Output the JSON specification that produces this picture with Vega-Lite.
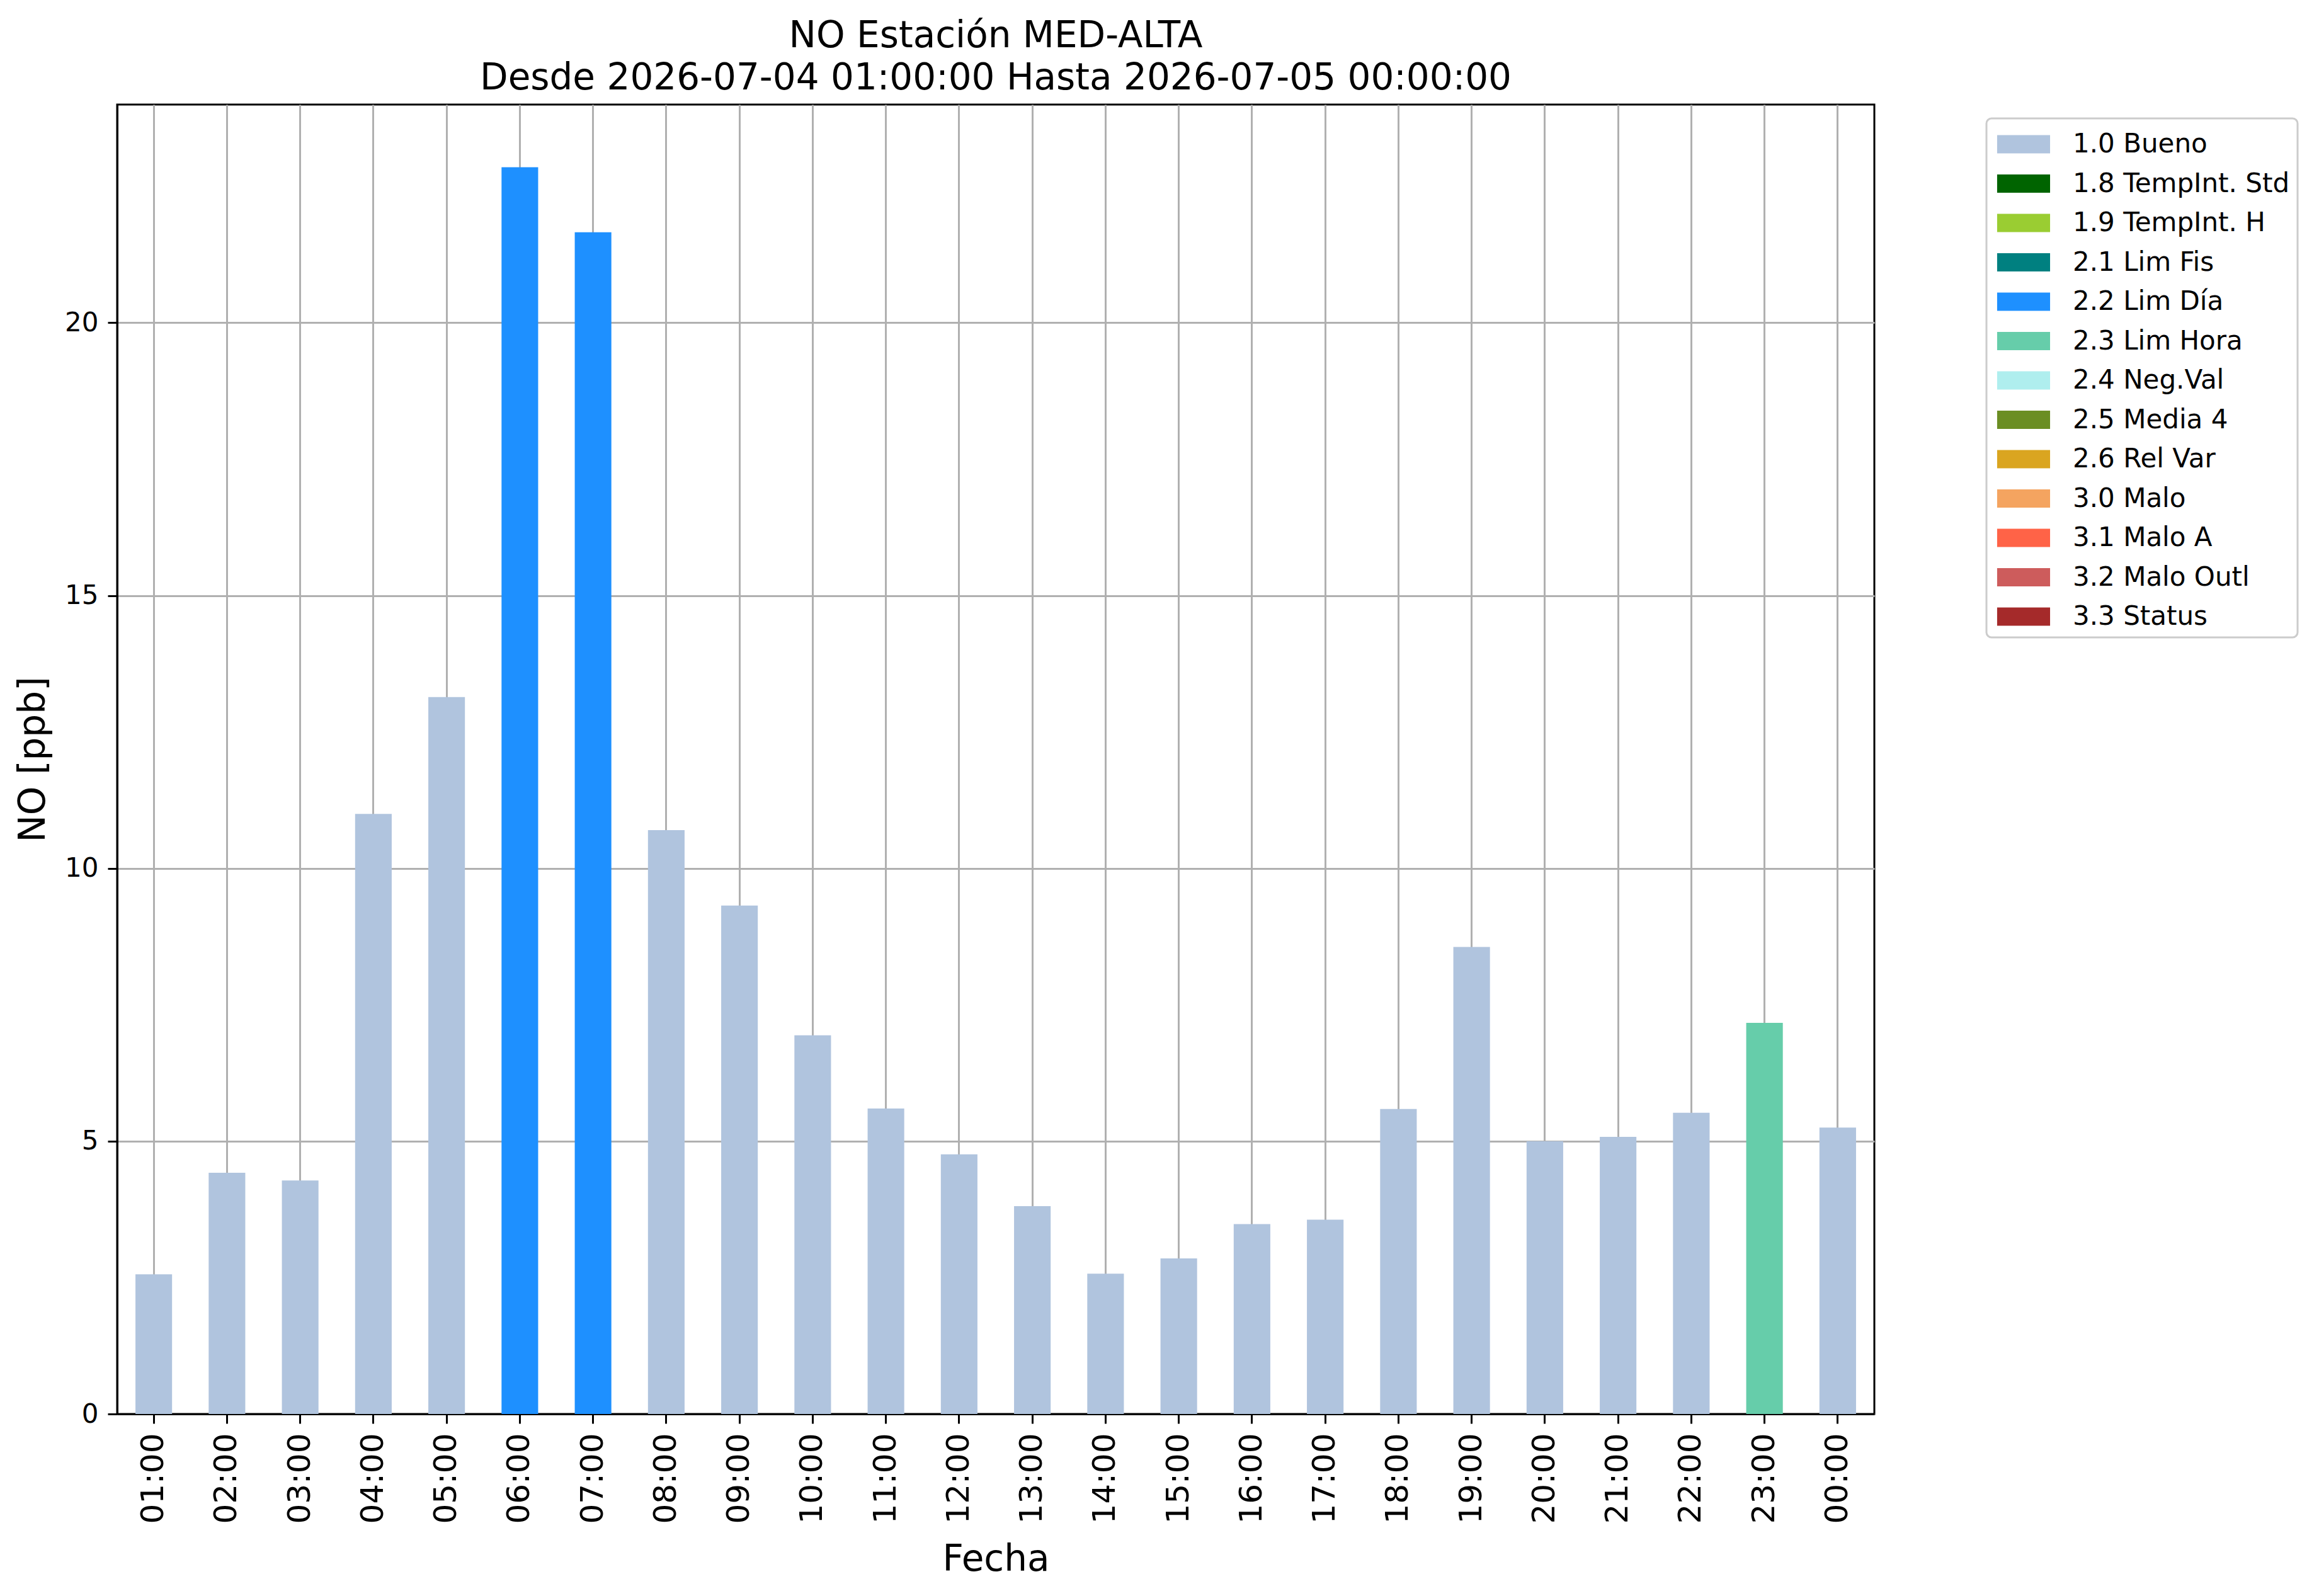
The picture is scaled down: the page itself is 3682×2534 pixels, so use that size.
{
  "$schema": "https://vega.github.io/schema/vega-lite/v6.json",
  "autosize": "none",
  "width": 2790,
  "height": 2079,
  "padding": {"left": 186, "top": 166, "right": 706, "bottom": 289},
  "background": "white",
  "title": {
    "text": ["NO Estación MED-ALTA", "Desde 2026-07-04 01:00:00 Hasta 2026-07-05 00:00:00"],
    "font": "DejaVu Sans",
    "fontSize": 58,
    "fontWeight": "normal",
    "lineHeight": 67,
    "anchor": "middle",
    "frame": "group",
    "offset": 12
  },
  "data": {
    "values": [
      {"hora": "01:00", "valor": 2.56, "flag": "1.0 Bueno"},
      {"hora": "02:00", "valor": 4.42, "flag": "1.0 Bueno"},
      {"hora": "03:00", "valor": 4.28, "flag": "1.0 Bueno"},
      {"hora": "04:00", "valor": 11.0, "flag": "1.0 Bueno"},
      {"hora": "05:00", "valor": 13.14, "flag": "1.0 Bueno"},
      {"hora": "06:00", "valor": 22.85, "flag": "2.2 Lim Día"},
      {"hora": "07:00", "valor": 21.66, "flag": "2.2 Lim Día"},
      {"hora": "08:00", "valor": 10.7, "flag": "1.0 Bueno"},
      {"hora": "09:00", "valor": 9.32, "flag": "1.0 Bueno"},
      {"hora": "10:00", "valor": 6.94, "flag": "1.0 Bueno"},
      {"hora": "11:00", "valor": 5.6, "flag": "1.0 Bueno"},
      {"hora": "12:00", "valor": 4.76, "flag": "1.0 Bueno"},
      {"hora": "13:00", "valor": 3.81, "flag": "1.0 Bueno"},
      {"hora": "14:00", "valor": 2.57, "flag": "1.0 Bueno"},
      {"hora": "15:00", "valor": 2.85, "flag": "1.0 Bueno"},
      {"hora": "16:00", "valor": 3.48, "flag": "1.0 Bueno"},
      {"hora": "17:00", "valor": 3.56, "flag": "1.0 Bueno"},
      {"hora": "18:00", "valor": 5.59, "flag": "1.0 Bueno"},
      {"hora": "19:00", "valor": 8.56, "flag": "1.0 Bueno"},
      {"hora": "20:00", "valor": 5.0, "flag": "1.0 Bueno"},
      {"hora": "21:00", "valor": 5.08, "flag": "1.0 Bueno"},
      {"hora": "22:00", "valor": 5.52, "flag": "1.0 Bueno"},
      {"hora": "23:00", "valor": 7.17, "flag": "2.3 Lim Hora"},
      {"hora": "00:00", "valor": 5.25, "flag": "1.0 Bueno"}
    ]
  },
  "mark": {"type": "bar", "strokeWidth": 0},
  "encoding": {
    "x": {
      "field": "hora",
      "type": "ordinal",
      "sort": null,
      "scale": {"paddingInner": 0.5, "paddingOuter": 0.25},
      "title": "Fecha",
      "axis": {
        "bandPosition": 0.5,
        "labelAngle": -90,
        "labelFontSize": 50,
        "labelPadding": 15,
        "titleFontSize": 58,
        "titlePadding": 28,
        "grid": true
      }
    },
    "y": {
      "field": "valor",
      "type": "quantitative",
      "stack": null,
      "scale": {"domain": [0, 24], "nice": false},
      "title": "NO [ppb]",
      "axis": {
        "values": [0, 5, 10, 15, 20],
        "labelFontSize": 42,
        "labelPadding": 15,
        "titleFontSize": 58,
        "titlePadding": 20
      }
    },
    "color": {
      "field": "flag",
      "type": "nominal",
      "scale": {
        "domain": ["1.0 Bueno", "1.8 TempInt. Std", "1.9 TempInt. H", "2.1 Lim Fis", "2.2 Lim Día", "2.3 Lim Hora", "2.4 Neg.Val", "2.5 Media 4", "2.6 Rel Var", "3.0 Malo", "3.1 Malo A", "3.2 Malo Outl", "3.3 Status"],
        "range": ["#B0C4DE", "#006400", "#9ACD32", "#008080", "#1E90FF", "#66CDAA", "#AFEEEE", "#6B8E23", "#DAA520", "#F4A460", "#FF6347", "#CD5C5C", "#A52A2A"]
      },
      "legend": {
        "title": null,
        "orient": "none",
        "legendX": 2968,
        "legendY": 22,
        "symbolType": "M-0.83,-0.5H2.07V0.5H-0.83Z",
        "symbolSize": 3364,
        "symbolStrokeWidth": 0,
        "symbolOpacity": 1,
        "labelFontSize": 42,
        "labelFont": "DejaVu Sans",
        "labelLimit": 800,
        "labelOffset": 67,
        "rowPadding": 12.5,
        "padding": 12,
        "strokeColor": "#cccccc",
        "cornerRadius": 8,
        "fillColor": "white",
        "encode": {
          "legend": {"update": {"strokeWidth": {"value": 3}}}
        }
      }
    }
  },
  "config": {
    "font": "DejaVu Sans",
    "view": {"stroke": "black", "strokeWidth": 3},
    "axis": {
      "labelFont": "DejaVu Sans",
      "titleFont": "DejaVu Sans",
      "titleFontWeight": "normal",
      "labelColor": "black",
      "titleColor": "black",
      "domainColor": "black",
      "domainWidth": 3,
      "tickColor": "black",
      "tickWidth": 3,
      "tickSize": 15,
      "gridColor": "#b0b0b0",
      "gridWidth": 3,
      "gridOpacity": 1,
      "zindex": 1
    }
  }
}
